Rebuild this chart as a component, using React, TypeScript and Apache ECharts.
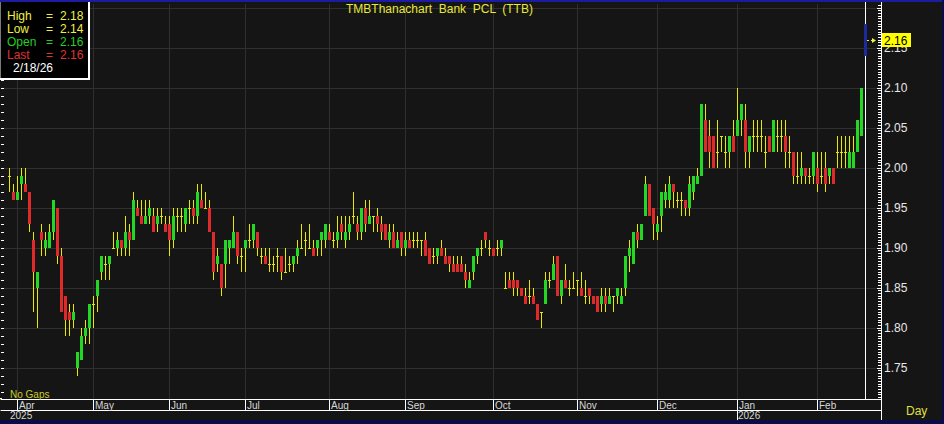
import React, { useEffect, useRef } from 'react';
import * as echarts from 'echarts';

const TITLE = 'TMBThanachart  Bank  PCL  (TTB)';
const LAST_DATE = '2/18/26';
const FONT = '"Liberation Sans", Arial, sans-serif';

// trading days per month (first block = last two days of March 2025)
const monthBlocks = [
  { month: 'Mar', year: 2025, days: 2 },
  { month: 'Apr', year: 2025, days: 19 },
  { month: 'May', year: 2025, days: 19 },
  { month: 'Jun', year: 2025, days: 19 },
  { month: 'Jul', year: 2025, days: 21 },
  { month: 'Aug', year: 2025, days: 19 },
  { month: 'Sep', year: 2025, days: 22 },
  { month: 'Oct', year: 2025, days: 21 },
  { month: 'Nov', year: 2025, days: 20 },
  { month: 'Dec', year: 2025, days: 20 },
  { month: 'Jan', year: 2026, days: 20 },
  { month: 'Feb', year: 2026, days: 13 },
];

const opens = [
  1.99, 1.97, 1.96, 1.98, 1.98, 1.97, 1.91, 1.85, 1.92, 1.90,
  1.90, 1.92, 1.95, 1.89, 1.84, 1.82, 1.81, 1.75, 1.76, 1.79,
  1.80, 1.83, 1.84, 1.87, 1.88, 1.88, 1.90, 1.90, 1.91, 1.90,
  1.92, 1.91, 1.95, 1.94, 1.93, 1.94, 1.94, 1.93, 1.94, 1.93,
  1.93, 1.91, 1.94, 1.94, 1.93, 1.95, 1.95, 1.94, 1.96, 1.95,
  1.95, 1.92, 1.88, 1.88, 1.88, 1.90, 1.90, 1.92, 1.89, 1.90,
  1.91, 1.91, 1.92, 1.89, 1.89, 1.88, 1.88, 1.89, 1.89, 1.87,
  1.88, 1.88, 1.89, 1.90, 1.91, 1.90, 1.90, 1.90, 1.91, 1.91,
  1.92, 1.91, 1.91, 1.93, 1.91, 1.92, 1.94, 1.93, 1.92, 1.95,
  1.93, 1.94, 1.94, 1.93, 1.93, 1.91, 1.92, 1.90, 1.92, 1.90,
  1.91, 1.91, 1.91, 1.91, 1.91, 1.90, 1.89, 1.89, 1.90, 1.89,
  1.89, 1.88, 1.88, 1.88, 1.87, 1.85, 1.87, 1.89, 1.90, 1.92,
  1.90, 1.90, 1.90, 1.90, 1.85, 1.86, 1.86, 1.86, 1.85, 1.84,
  1.84, 1.84, 1.83, 1.82, 1.83, 1.86, 1.86, 1.89, 1.84, 1.86,
  1.85, 1.85, 1.86, 1.85, 1.84, 1.85, 1.84, 1.84, 1.83, 1.84,
  1.83, 1.84, 1.84, 1.83, 1.85, 1.89, 1.88, 1.92, 1.91, 1.94,
  1.98, 1.95, 1.92, 1.94, 1.96, 1.96, 1.98, 1.96, 1.96, 1.96,
  1.95, 1.97, 1.98, 1.99, 2.06, 2.04, 2.04, 2.02, 2.04, 2.02,
  2.02, 2.04, 2.04, 2.06, 2.06, 2.02, 2.04, 2.04, 2.04, 2.02,
  2.04, 2.02, 2.04, 2.04, 2.04, 2.02, 2.02, 1.99, 1.99, 2.00,
  1.99, 1.99, 2.00, 1.99, 2.00, 1.99, 2.00, 2.02, 2.02, 2.02,
  2.00, 2.00, 2.02, 2.04, 2.16,
];

const highs = [
  2.00, 1.98, 1.99, 2.00, 2.00, 1.97, 1.92, 1.87, 1.93, 1.92,
  1.93, 1.96, 1.95, 1.90, 1.84, 1.83, 1.83, 1.77, 1.80, 1.81,
  1.83, 1.84, 1.86, 1.89, 1.89, 1.89, 1.92, 1.92, 1.91, 1.94,
  1.93, 1.97, 1.96, 1.96, 1.96, 1.96, 1.95, 1.95, 1.95, 1.94,
  1.94, 1.95, 1.95, 1.95, 1.95, 1.96, 1.96, 1.98, 1.98, 1.97,
  1.96, 1.92, 1.90, 1.88, 1.91, 1.91, 1.94, 1.92, 1.90, 1.91,
  1.93, 1.93, 1.92, 1.90, 1.90, 1.90, 1.89, 1.90, 1.89, 1.90,
  1.89, 1.89, 1.91, 1.93, 1.92, 1.93, 1.91, 1.91, 1.92, 1.93,
  1.93, 1.92, 1.94, 1.94, 1.94, 1.94, 1.97, 1.94, 1.95, 1.96,
  1.96, 1.94, 1.95, 1.94, 1.93, 1.93, 1.93, 1.92, 1.92, 1.92,
  1.92, 1.92, 1.92, 1.91, 1.92, 1.90, 1.90, 1.90, 1.91, 1.90,
  1.89, 1.89, 1.89, 1.89, 1.88, 1.87, 1.89, 1.90, 1.91, 1.92,
  1.91, 1.90, 1.91, 1.91, 1.87, 1.87, 1.87, 1.86, 1.85, 1.85,
  1.86, 1.85, 1.83, 1.82, 1.87, 1.87, 1.89, 1.89, 1.86, 1.88,
  1.86, 1.87, 1.86, 1.87, 1.86, 1.85, 1.84, 1.84, 1.85, 1.85,
  1.85, 1.84, 1.85, 1.85, 1.89, 1.91, 1.92, 1.93, 1.93, 1.99,
  1.98, 1.95, 1.94, 1.97, 1.98, 1.99, 1.98, 1.97, 1.97, 1.96,
  1.99, 1.99, 2.00, 2.08, 2.08, 2.06, 2.04, 2.06, 2.04, 2.04,
  2.04, 2.06, 2.10, 2.08, 2.08, 2.04, 2.06, 2.06, 2.06, 2.04,
  2.04, 2.06, 2.06, 2.06, 2.06, 2.04, 2.02, 2.02, 2.02, 2.00,
  2.00, 2.02, 2.02, 2.02, 2.02, 2.00, 2.00, 2.04, 2.04, 2.04,
  2.04, 2.04, 2.06, 2.10, 2.18,
];

const lows = [
  1.97, 1.96, 1.96, 1.96, 1.97, 1.92, 1.82, 1.80, 1.89, 1.89,
  1.90, 1.91, 1.88, 1.82, 1.79, 1.79, 1.80, 1.74, 1.76, 1.78,
  1.78, 1.80, 1.82, 1.86, 1.86, 1.86, 1.90, 1.89, 1.89, 1.89,
  1.89, 1.91, 1.94, 1.93, 1.93, 1.93, 1.92, 1.92, 1.93, 1.92,
  1.89, 1.90, 1.92, 1.92, 1.92, 1.93, 1.93, 1.93, 1.95, 1.95,
  1.92, 1.86, 1.87, 1.84, 1.85, 1.88, 1.90, 1.88, 1.87, 1.87,
  1.90, 1.90, 1.89, 1.88, 1.88, 1.87, 1.87, 1.87, 1.86, 1.87,
  1.87, 1.87, 1.88, 1.90, 1.89, 1.90, 1.89, 1.89, 1.89, 1.90,
  1.91, 1.90, 1.90, 1.91, 1.90, 1.91, 1.93, 1.91, 1.91, 1.92,
  1.93, 1.92, 1.92, 1.91, 1.91, 1.90, 1.90, 1.90, 1.89, 1.89,
  1.90, 1.90, 1.90, 1.89, 1.89, 1.88, 1.88, 1.88, 1.89, 1.88,
  1.87, 1.87, 1.87, 1.87, 1.85, 1.85, 1.86, 1.88, 1.89, 1.90,
  1.89, 1.89, 1.89, 1.89, 1.85, 1.85, 1.84, 1.84, 1.84, 1.83,
  1.83, 1.83, 1.81, 1.80, 1.83, 1.85, 1.86, 1.84, 1.83, 1.85,
  1.84, 1.85, 1.84, 1.84, 1.83, 1.83, 1.83, 1.82, 1.82, 1.82,
  1.83, 1.82, 1.83, 1.83, 1.84, 1.87, 1.88, 1.90, 1.91, 1.94,
  1.94, 1.91, 1.91, 1.92, 1.95, 1.95, 1.95, 1.95, 1.94, 1.94,
  1.94, 1.96, 1.98, 1.99, 2.02, 2.00, 2.00, 2.00, 2.02, 2.00,
  2.00, 2.02, 2.04, 2.04, 2.00, 2.00, 2.02, 2.02, 2.02, 2.00,
  2.02, 2.02, 2.02, 2.02, 2.00, 2.00, 1.98, 1.98, 1.98, 1.98,
  1.98, 1.98, 1.97, 1.98, 1.97, 1.98, 1.98, 2.00, 2.00, 2.00,
  2.00, 2.00, 2.02, 2.04, 2.14,
];

const closes = [
  1.99, 1.96, 1.97, 1.99, 1.97, 1.93, 1.87, 1.87, 1.91, 1.91,
  1.92, 1.96, 1.89, 1.82, 1.81, 1.81, 1.82, 1.77, 1.79, 1.80,
  1.83, 1.83, 1.86, 1.89, 1.88, 1.89, 1.90, 1.91, 1.90, 1.92,
  1.91, 1.96, 1.94, 1.93, 1.94, 1.95, 1.92, 1.94, 1.94, 1.92,
  1.91, 1.94, 1.94, 1.94, 1.95, 1.95, 1.94, 1.97, 1.95, 1.95,
  1.92, 1.87, 1.89, 1.85, 1.91, 1.91, 1.92, 1.89, 1.89, 1.91,
  1.91, 1.93, 1.90, 1.89, 1.88, 1.88, 1.88, 1.89, 1.87, 1.87,
  1.88, 1.89, 1.90, 1.90, 1.91, 1.90, 1.89, 1.91, 1.92, 1.93,
  1.91, 1.91, 1.92, 1.92, 1.92, 1.93, 1.94, 1.92, 1.95, 1.93,
  1.94, 1.94, 1.93, 1.92, 1.91, 1.92, 1.90, 1.91, 1.90, 1.91,
  1.90, 1.91, 1.91, 1.91, 1.89, 1.88, 1.89, 1.90, 1.89, 1.88,
  1.88, 1.87, 1.87, 1.87, 1.86, 1.86, 1.89, 1.90, 1.90, 1.91,
  1.90, 1.89, 1.90, 1.91, 1.85, 1.85, 1.85, 1.85, 1.84, 1.83,
  1.84, 1.83, 1.81, 1.82, 1.86, 1.86, 1.88, 1.84, 1.86, 1.85,
  1.85, 1.85, 1.86, 1.84, 1.84, 1.84, 1.83, 1.82, 1.84, 1.83,
  1.84, 1.84, 1.85, 1.84, 1.89, 1.90, 1.92, 1.91, 1.93, 1.98,
  1.94, 1.93, 1.93, 1.97, 1.97, 1.98, 1.97, 1.96, 1.96, 1.95,
  1.98, 1.99, 1.99, 2.08, 2.02, 2.02, 2.00, 2.02, 2.04, 2.02,
  2.04, 2.02, 2.06, 2.08, 2.02, 2.04, 2.04, 2.04, 2.04, 2.02,
  2.02, 2.06, 2.04, 2.04, 2.02, 2.02, 1.99, 1.99, 2.00, 1.99,
  1.99, 2.02, 1.98, 1.99, 1.98, 2.00, 1.98, 2.02, 2.02, 2.02,
  2.02, 2.02, 2.06, 2.10, 2.16,
];

const PAD_LEFT = 2;
const PAD_RIGHT = 4;
const Y_MIN = 1.7;
const Y_MAX = 2.20625;

const BG = '#151515';
const GRID_COLOR = '#2f2f2f';
const GREEN = '#22d822';
const RED = '#e02a2a';
const WICK = '#e8e800';
const LAST_BAR = '#1c2a9a';
const NAVY = '#0b0b48';
const NAVY_TOP = '#1c1ca0';
const YELLOW_TXT = '#e8e838';

export default function App() {
  const ref = useRef<HTMLDivElement>(null);

  useEffect(() => {
    if (!ref.current) return;
    const chart = echarts.init(ref.current, null, { renderer: 'svg' });

    const cats: string[] = [];
    for (let k = 0; k < PAD_LEFT; k++) cats.push(`pad-l-${k}`);
    const monthLabelAt = new Map<number, string>();
    const yearLabelAt = new Map<number, string>();
    const yearTickAt = new Set<number>();
    let prevYear: number | null = null;
    monthBlocks.forEach((b, bi) => {
      const start = cats.length;
      if (bi > 0) monthLabelAt.set(start, b.month);
      if (b.year !== prevYear) {
        yearLabelAt.set(start, String(b.year));
        if (prevYear !== null) yearTickAt.add(start);
        prevYear = b.year;
      }
      for (let d = 1; d <= b.days; d++) cats.push(`${b.month} ${b.year} #${d}`);
    });
    for (let k = 0; k < PAD_RIGHT; k++) cats.push(`pad-r-${k}`);

    const last = closes.length - 1;
    const seriesData = closes.map((c, i) => [i + PAD_LEFT, opens[i], c, lows[i], highs[i]]);

    const gridBase = { left: 1, right: 63 };

    const option: any = {
      animation: false,
      backgroundColor: BG,
      grid: [
        { ...gridBase, top: 3, height: 405 },
        { ...gridBase, top: 388, height: 11 },
        { ...gridBase, top: 399, height: 11 },
      ],
      xAxis: [
        {
          type: 'category', gridIndex: 0, data: cats, boundaryGap: false,
          axisLine: { show: false }, axisTick: { show: false }, axisLabel: { show: false },
          splitLine: { show: true, interval: (i: number) => monthLabelAt.has(i), lineStyle: { color: GRID_COLOR, width: 1 } },
        },
        {
          type: 'category', gridIndex: 1, data: cats, boundaryGap: false, z: 3,
          axisLine: { show: true, lineStyle: { color: '#ffffff', width: 1 } },
          axisTick: { show: true, interval: (i: number) => monthLabelAt.has(i), length: 11, lineStyle: { color: '#ffffff' } },
          axisLabel: {
            show: true, interval: (i: number) => monthLabelAt.has(i),
            formatter: (_v: string, i: number) => monthLabelAt.get(i) ?? '',
            align: 'left', margin: 1, padding: [0, 0, 0, 2], color: '#d8d8d8', fontSize: 10, fontFamily: FONT,
          },
          splitLine: { show: false },
        },
        {
          type: 'category', gridIndex: 2, data: cats, boundaryGap: false, z: 3,
          axisLine: { show: true, lineStyle: { color: '#ffffff', width: 1 } },
          axisTick: { show: true, interval: (i: number) => yearTickAt.has(i), length: 10, lineStyle: { color: '#ffffff' } },
          axisLabel: {
            show: true, interval: (i: number) => yearLabelAt.has(i),
            formatter: (_v: string, i: number) => yearLabelAt.get(i) ?? '',
            align: 'left', margin: 0, padding: [0, 0, 0, 1], color: '#d8d8d8', fontSize: 10, fontFamily: FONT,
          },
          splitLine: { show: false },
        },
      ],
      yAxis: [
        {
          type: 'value', gridIndex: 0, position: 'right', min: Y_MIN, max: Y_MAX, interval: 0.05,
          axisLine: { show: false },
          axisTick: { show: true, inside: true, length: 4, lineStyle: { color: '#ffffff' } },
          minorTick: { show: true, splitNumber: 15, length: 3, lineStyle: { color: '#ffffff' } },
          axisLabel: {
            color: '#e8e8e8', fontSize: 12, fontFamily: FONT, margin: 3,
            formatter: (v: number) => (v < 1.72 || v > 2.17 ? '' : v.toFixed(2)),
          },
          splitLine: { show: true, lineStyle: { color: GRID_COLOR, width: 1 } },
        },
        {
          type: 'value', gridIndex: 0, position: 'left', min: Y_MIN, max: Y_MAX, interval: 0.01,
          axisLine: { show: false },
          axisTick: { show: true, inside: true, length: 3, lineStyle: { color: '#ffffff' } },
          axisLabel: { show: false }, splitLine: { show: false },
        },
        { type: 'value', gridIndex: 1, show: false },
        { type: 'value', gridIndex: 2, show: false },
      ],
      series: [
        {
          type: 'custom',
          xAxisIndex: 0,
          yAxisIndex: 0,
          z: 2,
          clip: false,
          encode: { x: 0, y: [1, 2, 3, 4] },
          data: seriesData,
          renderItem: (params: any, api: any) => {
            const idx = api.value(0);
            const o = api.value(1);
            const c = api.value(2);
            const l = api.value(3);
            const h = api.value(4);
            const cx = Math.round(api.coord([idx, o])[0]);
            const yO = Math.round(api.coord([idx, o])[1]);
            const yC = Math.round(api.coord([idx, c])[1]);
            const yL = Math.round(api.coord([idx, l])[1]);
            const yH = Math.round(api.coord([idx, h])[1]);
            const children: any[] = [];
            if (params.dataIndex === last) {
              children.push({ type: 'rect', shape: { x: cx - 1, y: yH, width: 3, height: Math.max(1, yL - yH) }, style: { fill: LAST_BAR } });
            } else {
              children.push({ type: 'rect', shape: { x: cx, y: yH, width: 1, height: Math.max(1, yL - yH) }, style: { fill: WICK } });
              if (yO === yC) {
                children.push({ type: 'rect', shape: { x: cx - 1, y: yO, width: 3, height: 1 }, style: { fill: WICK } });
              } else {
                children.push({
                  type: 'rect',
                  shape: { x: cx - 1, y: Math.min(yO, yC), width: 3, height: Math.abs(yO - yC) },
                  style: { fill: c > o ? GREEN : RED },
                });
              }
            }
            return { type: 'group', children };
          },
        },
      ],
    };

    chart.setOption(option);

    const [xLastRaw, yCloseRaw] = chart.convertToPixel({ gridIndex: 0 }, [last + PAD_LEFT, closes[last]]) as number[];
    const xEnd = Math.round((chart.convertToPixel({ gridIndex: 0 }, [cats.length - 1, 2.0]) as number[])[0]);
    const xLast = Math.round(xLastRaw);
    const yc = Math.round(yCloseRaw);

    const txt = (text: string, x: number, y: number, fill: string, size: number, z = 12, align = 'left') => ({
      type: 'text', x, y, z, silent: true,
      style: { text, fill, fontSize: size, fontFamily: FONT, align, verticalAlign: 'middle' },
    });

    const legendRows = [
      { label: 'High', value: highs[last], color: '#f0f040' },
      { label: 'Low', value: lows[last], color: '#f0f040' },
      { label: 'Open', value: opens[last], color: '#22d022' },
      { label: 'Last', value: closes[last], color: '#e03232' },
    ];

    const graphic: any[] = [
      { type: 'rect', z: 1, silent: true, shape: { x: 0, y: 399, width: xEnd, height: 21 }, style: { fill: BG } },
      { type: 'rect', z: 1, silent: true, shape: { x: 0, y: 2, width: xEnd, height: 2 }, style: { fill: BG } },
      { type: 'rect', z: 1, silent: true, shape: { x: xLast, y: 0, width: 1, height: 399 }, style: { fill: '#ffffff' } },
      { type: 'rect', z: 5, silent: true, shape: { x: xEnd, y: 0, width: 1, height: 420 }, style: { fill: '#ffffff' } },
      { type: 'rect', z: 5, silent: true, shape: { x: 0, y: 398, width: 2, height: 1 }, style: { fill: '#ffffff' } },
      {
        type: 'line', z: 6, silent: true,
        shape: { x1: xLast + 2, y1: yc + 0.5, x2: xEnd - 7, y2: yc + 0.5 },
        style: { stroke: '#f0f040', lineWidth: 1, lineDash: [2, 2] },
      },
      {
        type: 'polygon', z: 6, silent: true,
        shape: { points: [[xEnd - 9, yc - 2], [xEnd - 5, yc + 0.5], [xEnd - 9, yc + 3]] },
        style: { fill: '#f0f040' },
      },
      { type: 'rect', z: 6, silent: true, shape: { x: xEnd + 1, y: yc - 7, width: 29, height: 14 }, style: { fill: '#ffff00' } },
      txt(closes[last].toFixed(2), xEnd + 3, yc + 0.5, '#000000', 12, 7),
      { type: 'rect', z: 20, silent: true, shape: { x: 0, y: 0, width: 944, height: 2 }, style: { fill: NAVY_TOP } },
      { type: 'rect', z: 20, silent: true, shape: { x: 942, y: 0, width: 2, height: 424 }, style: { fill: NAVY } },
      { type: 'rect', z: 20, silent: true, shape: { x: 0, y: 420, width: 944, height: 4 }, style: { fill: NAVY } },
      { type: 'rect', z: 10, silent: true, shape: { x: 0, y: 2, width: 88, height: 76 }, style: { fill: '#000000' } },
      { type: 'rect', z: 11, silent: true, shape: { x: 88, y: 2, width: 2, height: 78 }, style: { fill: '#ffffff' } },
      { type: 'rect', z: 11, silent: true, shape: { x: 0, y: 78, width: 90, height: 2 }, style: { fill: '#ffffff' } },
      { type: 'rect', z: 11, silent: true, shape: { x: 0, y: 2, width: 1, height: 76 }, style: { fill: '#7a7a7a' } },
      ...legendRows.flatMap((r, k) => [
        txt(r.label, 7, 15.5 + 13 * k, r.color, 12),
        txt('=', 46, 15.5 + 13 * k, r.color, 12),
        txt(r.value.toFixed(2), 60, 15.5 + 13 * k, r.color, 12),
      ]),
      txt(LAST_DATE, 13, 67.5, '#ffffff', 12),
      txt(TITLE, 346, 8.5, YELLOW_TXT, 12, 8),
      txt('No Gaps', 10, 394, '#cccc28', 10, 8),
      txt('Day', 906, 411, '#e0e040', 12, 8),
    ];

    chart.setOption({ graphic });

    return () => {
      chart.dispose();
    };
  }, []);

  return <div ref={ref} style={{ position: 'absolute', left: 0, top: 0, width: 944, height: 424 }} />;
}
